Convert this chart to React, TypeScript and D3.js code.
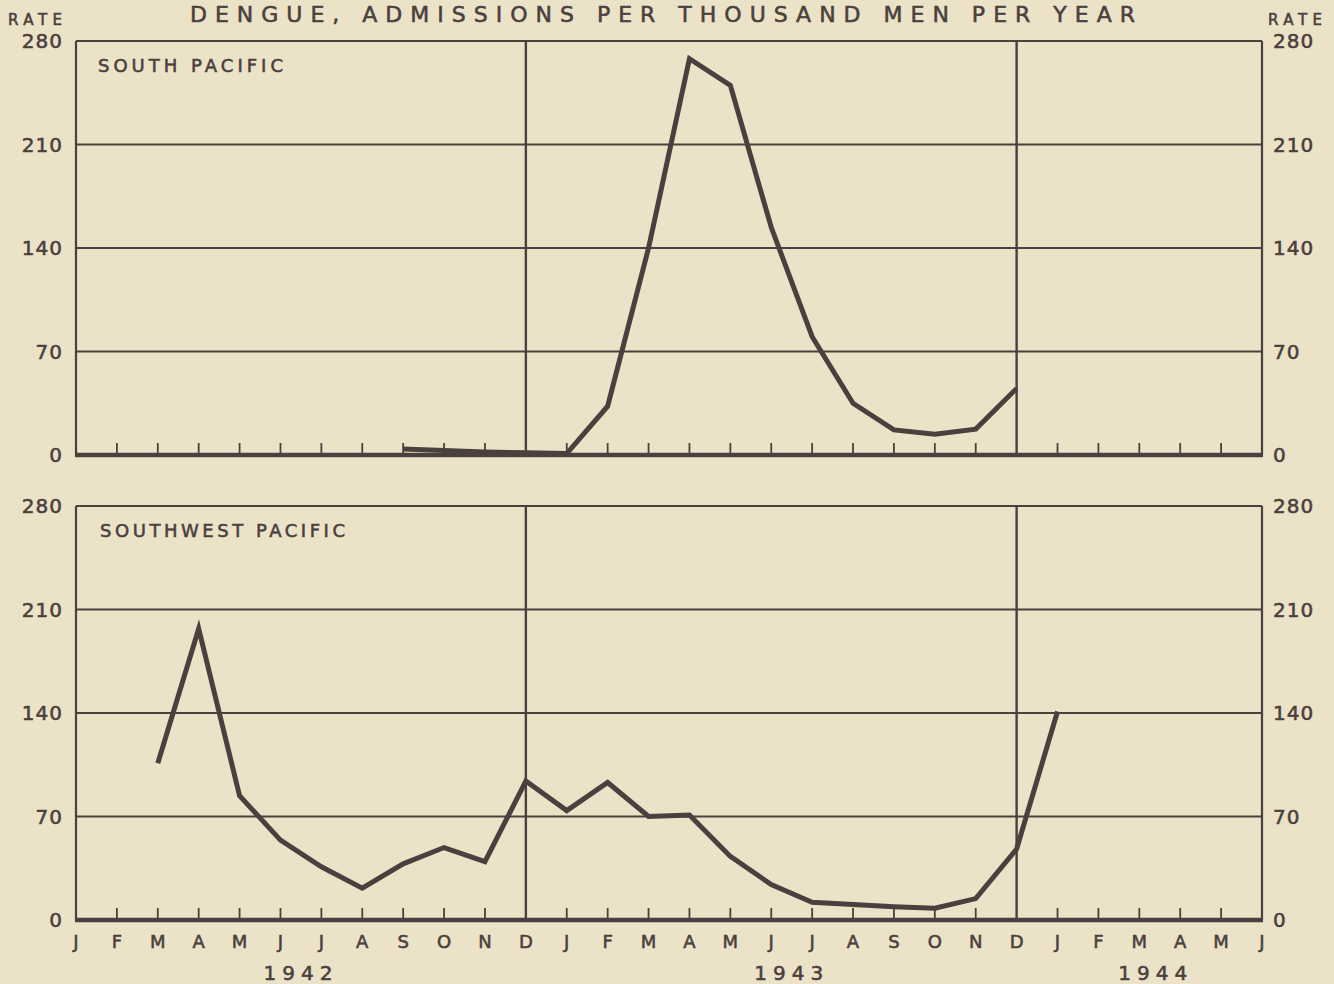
import React from "react";
import * as d3 from "d3";

// ---------- data ----------
const monthLabels = [
  "J", "F", "M", "A", "M", "J", "J", "A", "S", "O", "N", "D",
  "J", "F", "M", "A", "M", "J", "J", "A", "S", "O", "N", "D",
  "J", "F", "M", "A", "M", "J",
];
const yearLabels = ["1942", "1943", "1944"];
const yearCenters = [5.5, 17.5, 26.4]; // in month-index units
const yTicks = [0, 70, 140, 210, 280];
const yearDividers = [11, 23]; // December 1942, December 1943

// South Pacific: Sep 1942 .. Dec 1943
const southPacificStart = 8;
const southPacific = [4, 3, 2, 1.5, 1, 33, 140, 268, 250, 154, 80, 35, 17, 14, 17.5, 45];

// Southwest Pacific: Mar 1942 .. Jan 1944
const southwestPacificStart = 2;
const southwestPacific = [
  106, 197, 84, 54, 36, 21.5, 38, 49, 39.5, 94,
  74, 93, 70, 71, 43, 24, 12, 10.5, 9, 8, 14.5, 48,
  141,
];

const panels = [
  { name: "SOUTH PACIFIC", start: southPacificStart, values: southPacific, nameX: 98, nameLen: 185 },
  { name: "SOUTHWEST PACIFIC", start: southwestPacificStart, values: southwestPacific, nameX: 100, nameLen: 245 },
];

// ---------- layout ----------
const W = 1334;
const H = 984;
const BG = "#ece2c8";
const INK = "#4a403d";
const FONT = "'DejaVu Sans', 'Liberation Sans', sans-serif";

const x = d3.scaleLinear().domain([0, monthLabels.length - 1]).range([76, 1262]);
const panelBoxes = [
  { top: 41, bottom: 455 },
  { top: 506, bottom: 920 },
];

const textStyle = { fontFamily: FONT, fill: INK, stroke: INK, strokeWidth: 0.55 } as const;

function Panel({ idx }: { idx: number }) {
  const p = panels[idx];
  const box = panelBoxes[idx];
  const y = d3.scaleLinear().domain([0, 280]).range([box.bottom, box.top]);
  const pts: [number, number][] = p.values.map((v, i) => [p.start + i, v]);
  const line = d3
    .line<[number, number]>()
    .x((d) => x(d[0]))
    .y((d) => y(d[1]));
  const x0 = x(0);
  const x1 = x(monthLabels.length - 1);
  return (
    <g>
      {yTicks
        .filter((t) => t > 0)
        .map((t) => (
          <line key={t} x1={x0} x2={x1} y1={y(t)} y2={y(t)} stroke={INK} strokeWidth={t === 280 ? 2.2 : 1.8} />
        ))}
      <line x1={x0} x2={x0} y1={y(280)} y2={y(0)} stroke={INK} strokeWidth={2.2} />
      <line x1={x1} x2={x1} y1={y(280)} y2={y(0)} stroke={INK} strokeWidth={2.2} />
      {yearDividers.map((m) => (
        <line key={m} x1={x(m)} x2={x(m)} y1={y(280)} y2={y(0)} stroke={INK} strokeWidth={2.4} />
      ))}
      {monthLabels.map((_, i) =>
        i === 0 || i === monthLabels.length - 1 || yearDividers.includes(i) ? null : (
          <line key={i} x1={x(i)} x2={x(i)} y1={y(0)} y2={y(0) - 12} stroke={INK} strokeWidth={1.8} />
        )
      )}
      <line x1={x0 - 1} x2={x1 + 1} y1={y(0)} y2={y(0)} stroke={INK} strokeWidth={4.5} />
      <path d={line(pts) || ""} fill="none" stroke={INK} strokeWidth={5} strokeLinejoin="miter" strokeMiterlimit={6} />
      <text x={p.nameX} y={box.top + 31} fontSize={18} textLength={p.nameLen} lengthAdjust="spacing" {...textStyle}>
        {p.name}
      </text>
      {yTicks.map((t) => (
        <g key={t}>
          <text x={63} y={y(t) + 7} textAnchor="end" fontSize={20} letterSpacing={1} {...textStyle}>
            {t}
          </text>
          <text x={1273} y={y(t) + 7} fontSize={20} letterSpacing={1} {...textStyle}>
            {t}
          </text>
        </g>
      ))}
    </g>
  );
}

export default function App() {
  return (
    <div style={{ position: "absolute", left: 0, top: 0 }}>
      <svg width={W} height={H} viewBox={`0 0 ${W} ${H}`} style={{ display: "block" }}>
        <rect x={0} y={0} width={W} height={H} fill={BG} />
        <text x={190} y={22} fontSize={22} textLength={945} lengthAdjust="spacing" {...textStyle}>
          DENGUE, ADMISSIONS PER THOUSAND MEN PER YEAR
        </text>
        <text x={8} y={25} fontSize={15} textLength={54} lengthAdjust="spacing" {...textStyle}>
          RATE
        </text>
        <text x={1268} y={25} fontSize={15} textLength={54} lengthAdjust="spacing" {...textStyle}>
          RATE
        </text>
        <Panel idx={0} />
        <Panel idx={1} />
        {monthLabels.map((m, i) => (
          <text key={i} x={x(i)} y={948} textAnchor="middle" fontSize={18} {...textStyle}>
            {m}
          </text>
        ))}
        {yearLabels.map((yl, i) => (
          <text
            key={yl}
            x={x(yearCenters[i])}
            y={980}
            textAnchor="middle"
            fontSize={20}
            letterSpacing={6}
            {...textStyle}
          >
            {yl}
          </text>
        ))}
      </svg>
    </div>
  );
}
